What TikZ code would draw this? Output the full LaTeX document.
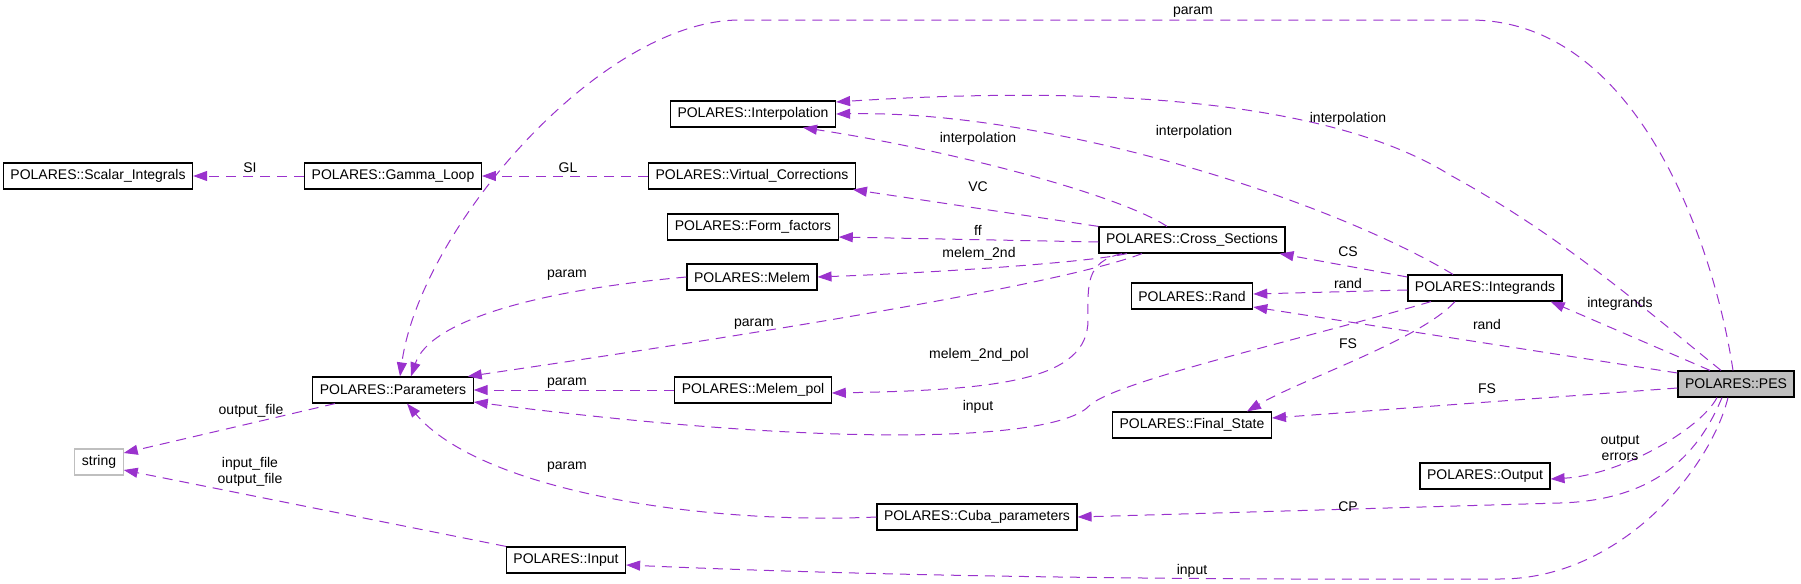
\documentclass[tikz,border=0pt]{standalone}
\usepackage{fontspec}
\setmainfont{Liberation Sans}
\usepackage{xcolor}
\usetikzlibrary{arrows.meta}
\definecolor{usepurple}{RGB}{154, 50, 205}
\definecolor{pesgray}{RGB}{191, 191, 191}

\begin{document}
\begin{tikzpicture}[x=0.5pt, y=-0.5pt,
    cls/.style={draw=black, line width=0.6pt, fill=white, font=\fontsize{7}{8}\selectfont,
                inner xsep=3.5pt, inner ysep=0pt, minimum height=13pt},
    uses/.style={draw=usepurple, line width=0.5pt, dash pattern=on 5pt off 3.5pt,
                 -{Triangle[length=7pt,width=5pt]}},
    lab/.style={font=\fontsize{7}{8}\selectfont, inner sep=0pt, align=center}]
                \useasboundingbox (0,0) rectangle (1801,584);

                % Classes
                \node[cls] (si) at (98,176) {POLARES::Scalar\_Integrals};
                \node[cls] (gl) at (393,176) {POLARES::Gamma\_Loop};
                \node[cls] (interp) at (753,114) {POLARES::Interpolation};
                \node[cls] (vc) at (752,176) {POLARES::Virtual\_Corrections};
                \node[cls] (ff) at (753,227) {POLARES::Form\_factors};
                \node[cls] (melem) at (752,277) {POLARES::Melem};
                \node[cls] (params) at (393,390) {POLARES::Parameters};
                \node[cls] (melempol) at (753,390) {POLARES::Melem\_pol};
                \node[cls] (cs) at (1192,240) {POLARES::Cross\_Sections};
                \node[cls] (rand) at (1192,296) {POLARES::Rand};
                \node[cls] (integ) at (1485,288) {POLARES::Integrands};
                \node[cls] (fs) at (1192,425) {POLARES::Final\_State};
                \node[cls] (output) at (1485,476) {POLARES::Output};
                \node[cls] (cuba) at (977,517) {POLARES::Cuba\_parameters};
                \node[cls] (input) at (566,560) {POLARES::Input};
                \node[cls, draw=pesgray] (string) at (99,462) {string};
                \node[cls, fill=pesgray] (pes) at (1736,384) {POLARES::PES};

                % Left part
                \draw[uses] (gl.west) -- (si.east);
                \node[lab] (lSI) at (250,168) {SI};
                \draw[uses] (vc.west) -- (gl.east);
                \node[lab] (lGL) at (568,168) {GL};
                \draw[uses] (melempol.west) -- (params.east);
                \node[lab] (lparam3) at (567,383) {param};
                \draw[uses] (melem.west) .. controls (540,290) and (430,320) .. ([xshift=9pt]params.north);
                \node[lab] (lparam2) at (567,275) {param};
                \draw[uses] (cuba.west) .. controls (700,525) and (480,490) .. ([xshift=7pt]params.south);
                \node[lab] (lparam5) at (567,467) {param};
                \draw[uses] ([xshift=-29pt]params.south) -- ([yshift=4.5pt]string.east);
                \node[lab] (loutfile) at (251,411) {output\_file};
                \draw[uses] (input.north west) -- ([yshift=-4pt]string.east);
                \node[lab] (linfile) at (250,472) {input\_file\\output\_file};

                % Cross sections
                \draw[uses] (cs.north west) -- ([xshift=-1.5pt]vc.south east);
                \node[lab] (lVC) at (978,187) {VC};
                \draw[uses] ([yshift=-1pt]cs.west) -- ([yshift=-5pt]ff.east);
                \node[lab] (lff) at (978,230) {ff};
                \draw[uses] ([xshift=-32.5pt]cs.south) .. controls (1090,262) and (950,272) .. (melem.east);
                \node[lab] (lmelem) at (979,254) {melem\_2nd};
                \draw[uses] ([xshift=-35pt]cs.south) .. controls (1085,262) and (1088,285) .. (1088,320)
                    .. controls (1088,380) and (1000,390) .. ([yshift=-1.5pt]melempol.east);
                \node[lab] (lmelempol) at (979,355) {melem\_2nd\_pol};
                \draw[uses] ([xshift=-25pt]cs.south) .. controls (1060,285) and (750,335) .. ([xshift=-3pt]params.north east);
                \node[lab] (lparam4) at (754,324) {param};
                \draw[uses] ([xshift=-12.5pt]cs.north) .. controls (1120,195) and (950,150) .. ([xshift=25pt]interp.south);
                \node[lab] (linterp1) at (978,139) {interpolation};

                % Integrands
                \draw[uses] ([yshift=5.5pt]integ.west) -- ([xshift=-3pt]cs.south east);
                \node[lab] (lCS) at (1348,252) {CS};
                \draw[uses] ([yshift=-1pt]integ.west) -- ([yshift=1pt]rand.east);
                \node[lab] (lrand1) at (1348,283) {rand};
                \draw[uses] ([xshift=-15pt]integ.south) .. controls (1420,340) and (1300,380) .. ([xshift=27.5pt]fs.north);
                \node[lab] (lFS1) at (1348,344) {FS};
                \draw[uses] ([xshift=-27pt]integ.south) .. controls (1300,340) and (1120,380) .. (1090,405)
                    .. controls (1060,440) and (850,450) .. ([yshift=-6pt]params.east);
                \node[lab] (linput1) at (978,407) {input};
                \draw[uses] ([xshift=-16pt]integ.north) .. controls (1330,200) and (1050,110) .. (interp.east);
                \node[lab] (linterp2) at (1194,132) {interpolation};

                % PES
                \draw[uses] ([xshift=-1.5pt]pes.north) .. controls (1715,250) and (1640,20) .. (1470,20)
                    -- (740,20) .. controls (600,20) and (420,230) .. ([xshift=3.5pt]params.north);
                \node[lab] (lparam1) at (1193,12) {param};
                \draw[uses] ([xshift=-7.5pt]pes.north) .. controls (1640,305) and (1560,235) .. (1450,175)
                    .. controls (1330,100) and (1100,85) .. ([yshift=6pt]interp.east);
                \node[lab] (linterp3) at (1348,119) {interpolation};
                \draw[uses] ([xshift=-13pt]pes.north) -- ([xshift=-6pt]integ.south east);
                \node[lab] (linteg) at (1620,304) {integrands};
                \draw[uses] ([yshift=5.5pt]pes.west) -- ([yshift=-5.5pt]rand.east);
                \node[lab] (lrand2) at (1487,324) {rand};
                \draw[uses] ([yshift=-2pt]pes.west) -- ([yshift=3.5pt]fs.east);
                \node[lab] (lFS2) at (1487,389) {FS};
                \draw[uses] ([xshift=-9.5pt]pes.south) .. controls (1700,430) and (1620,475) .. ([yshift=-1.5pt]output.east);
                \node[lab] (loutput) at (1620,448) {output\\errors};
                \draw[uses] ([xshift=-7pt]pes.south) .. controls (1700,450) and (1660,500) .. (1560,503) -- (cuba.east);
                \node[lab] (lCP) at (1348,507) {CP};
                \draw[uses] ([xshift=-4pt]pes.south) .. controls (1710,470) and (1620,579) .. (1500,579)
                    .. controls (1200,580) and (900,577) .. ([yshift=-2.5pt]input.east);
                \node[lab] (linput2) at (1192,571) {input};
\end{tikzpicture}
\end{document}
